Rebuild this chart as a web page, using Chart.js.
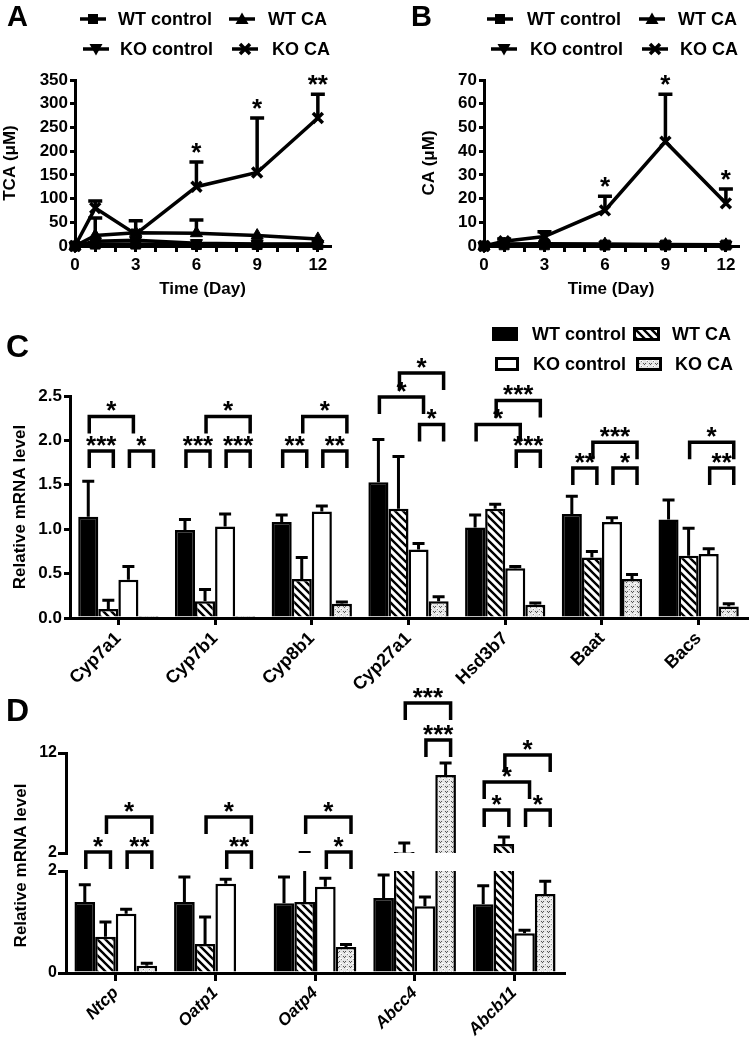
<!DOCTYPE html>
<html><head><meta charset="utf-8">
<script src="https://cdn.jsdelivr.net/npm/chart.js@4.4.1/dist/chart.umd.min.js"></script>
<style>
html,body{margin:0;padding:0;background:#fff;}
#wrap{position:relative;width:749px;height:1046px;overflow:hidden;background:#fff;font-family:"Liberation Sans",Arial,sans-serif;font-weight:bold;color:#000;}
canvas{position:absolute;}
.t{position:absolute;white-space:nowrap;font-weight:bold;}
</style></head>
<body><div id="wrap"></div>
<script>
// ---------------- DATA ----------------
const seriesNames = ['WT control', 'WT CA', 'KO control', 'KO CA'];
const days = [0, 1, 3, 6, 9, 12];
const dayTickLabels = [0, 3, 6, 9, 12];

// Panel A: TCA (uM)
const tcaWTcontrol = [0, 4, 4, 3, 3, 3];
const tcaWTCA      = [0, 22, 28, 27, 22, 15];
const tcaKOcontrol = [0, 10, 12, 6, 4, 4];
const tcaKOCA      = [0, 80, 25, 125, 155, 270];
const tcaWTCAErr   = [null, 59, null, 55, null, null];
const tcaKOCAErr   = [null, 95, 53, 177, 270, 320];
const tcaStars     = [null, null, null, '*', '*', '**'];

// Panel B: CA (uM)
const caWTcontrol = [0, 0.5, 0.5, 0.4, 0.4, 0.4];
const caWTCA      = [0, 0.8, 1.0, 0.8, 0.6, 0.5];
const caKOcontrol = [0, 0.6, 0.6, 0.5, 0.4, 0.4];
const caKOCA      = [0, 2, 4, 15, 44, 18];
const caKOCAErr   = [null, 3, 6, 21, 64, 24];
const caStars     = [null, null, null, '*', '*', '*'];

// Panel C: relative mRNA level
const genesC = ['Cyp7a1', 'Cyp7b1', 'Cyp8b1', 'Cyp27a1', 'Hsd3b7', 'Baat', 'Bacs'];
const cWTcontrol    = [1.14, 0.99, 1.08, 1.53, 1.02, 1.17, 1.11];
const cWTcontrolErr = [1.54, 1.11, 1.16, 2.01, 1.16, 1.37, 1.33];
const cWTCA         = [0.10, 0.19, 0.44, 1.23, 1.23, 0.68, 0.70];
const cWTCAErr      = [0.20, 0.32, 0.68, 1.82, 1.28, 0.75, 1.01];
const cKOcontrol    = [0.43, 1.03, 1.20, 0.77, 0.56, 1.08, 0.72];
const cKOcontrolErr = [0.58, 1.17, 1.26, 0.84, 0.58, 1.13, 0.78];
const cKOCA         = [0.01, 0.01, 0.16, 0.19, 0.15, 0.44, 0.13];
const cKOCAErr      = [0.01, 0.01, 0.18, 0.24, 0.17, 0.49, 0.16];
// significance brackets: [gene index, from group, to group, level, label]
const cBrackets = [
  [0, 0, 2, 2.27, '*'], [0, 0, 1, 1.88, '***'], [0, 2, 3, 1.88, '*'],
  [1, 1, 3, 2.27, '*'], [1, 0, 1, 1.88, '***'], [1, 2, 3, 1.88, '***'],
  [2, 1, 3, 2.27, '*'], [2, 0, 1, 1.88, '**'], [2, 2, 3, 1.88, '**'],
  [3, 1, 3, 2.76, '*'], [3, 0, 2, 2.49, '*'], [3, 2, 3, 2.18, '*'],
  [4, 1, 3, 2.45, '***'], [4, 0, 2, 2.18, '*'], [4, 2, 3, 1.88, '***'],
  [5, 1, 3, 1.98, '***'], [5, 0, 1, 1.69, '**'], [5, 2, 3, 1.69, '*'],
  [6, 1, 3, 1.98, '*'], [6, 2, 3, 1.69, '**']
];

// Panel D: relative mRNA level (broken axis 0-2 / 2-12)
const genesD = ['Ntcp', 'Oatp1', 'Oatp4', 'Abcc4', 'Abcb11'];
const dWTcontrol    = [1.39, 1.39, 1.37, 1.47, 1.35];
const dWTcontrolErr = [1.73, 1.88, 1.88, 1.92, 1.71];
const dWTCA         = [0.71, 0.57, 1.39, 2.1, 2.9];
const dWTCAErr      = [1.00, 1.10, 2.05, 3.0, 3.6];
const dKOcontrol    = [1.16, 1.75, 1.69, 1.31, 0.78];
const dKOcontrolErr = [1.25, 1.84, 1.86, 1.49, 0.84];
const dKOCA         = [0.14, 0.0, 0.51, 9.8, 1.55];
const dKOCAErr      = [0.19, 0.0, 0.56, 11.0, 1.80];
const dLowerTicks = [0, 2];
const dUpperTicks = [2, 12];
const dBrackets = [
  [0, 1, 3, 5.6, '*'], [0, 0, 1, 2.1, '*'], [0, 2, 3, 2.1, '**'],
  [1, 1, 3, 5.6, '*'], [1, 2, 3, 2.1, '**'],
  [2, 1, 3, 5.6, '*'], [2, 2, 3, 2.1, '*'],
  [3, 1, 3, 17.0, '***'], [3, 2, 3, 13.3, '***'],
  [4, 1, 3, 11.8, '*'], [4, 0, 2, 9.1, '*'], [4, 0, 1, 6.3, '*'], [4, 2, 3, 6.3, '*']
];

// ---------------- SETUP ----------------
const FONT = '"Liberation Sans", Arial, sans-serif';
Chart.defaults.font.family = FONT;
Chart.defaults.font.weight = 'bold';
Chart.defaults.font.size = 17;
Chart.defaults.color = '#000';
Chart.defaults.animation = false;

const wrap = document.getElementById('wrap');
function addCanvas(x, y, w, h) {
  const c = document.createElement('canvas');
  c.width = w; c.height = h;
  c.style.left = x + 'px'; c.style.top = y + 'px';
  c.style.width = w + 'px'; c.style.height = h + 'px';
  wrap.appendChild(c);
  return c;
}
function addText(txt, x, cy, size, extra) {
  const d = document.createElement('div');
  d.className = 't';
  d.textContent = txt;
  d.style.left = x + 'px';
  d.style.top = (cy - size / 2) + 'px';
  d.style.fontSize = size + 'px';
  d.style.lineHeight = size + 'px';
  if (extra) Object.assign(d.style, extra);
  wrap.appendChild(d);
  return d;
}
function addHTML(html, x, y) {
  const d = document.createElement('div');
  d.style.position = 'absolute'; d.style.left = x + 'px'; d.style.top = y + 'px';
  d.style.lineHeight = '0';
  d.innerHTML = html;
  wrap.appendChild(d);
}

function hatchPattern(ctx) {
  const c = document.createElement('canvas'); c.width = 8; c.height = 8;
  const g = c.getContext('2d');
  g.fillStyle = '#fff'; g.fillRect(0, 0, 8, 8);
  g.strokeStyle = '#000'; g.lineWidth = 2.4;
  g.beginPath();
  g.moveTo(-2, -2); g.lineTo(10, 10);
  g.moveTo(-2, 6); g.lineTo(2, 10);
  g.moveTo(6, -2); g.lineTo(10, 2);
  g.stroke();
  return ctx.createPattern(c, 'repeat');
}
function dotPattern(ctx) {
  const c = document.createElement('canvas'); c.width = 6; c.height = 5;
  const g = c.getContext('2d');
  g.fillStyle = '#e6e6e6'; g.fillRect(0, 0, 6, 5);
  g.fillStyle = '#555';
  g.fillRect(1, 1, 1, 1); g.fillRect(3, 1, 1, 1); g.fillRect(2, 2, 1, 1);
  g.fillStyle = '#fff';
  g.fillRect(4, 3, 2, 1); g.fillRect(0, 4, 1, 1);
  g.fillStyle = '#8a8a8a';
  g.fillRect(5, 4, 1, 1);
  return ctx.createPattern(c, 'repeat');
}

function axisBase(tickLen, pad) {
  return {
    grid: {display: true, drawOnChartArea: false, drawTicks: true, tickLength: tickLen, color: '#000', lineWidth: 3},
    border: {display: true, color: '#000', width: 3},
    ticks: {padding: pad, color: '#000', autoSkip: false, maxRotation: 0}
  };
}

function drawStar(ctx, txt, x, cy) {
  ctx.save();
  ctx.font = 'bold 26px ' + FONT;
  ctx.textAlign = 'center';
  ctx.textBaseline = 'alphabetic';
  const m = ctx.measureText(txt);
  const base = cy - (m.actualBoundingBoxDescent - m.actualBoundingBoxAscent) / 2;
  ctx.fillStyle = '#000';
  ctx.fillText(txt, x, base);
  ctx.restore();
}

// ---------------- LINE CHARTS (A, B) ----------------
const lineStyles = [
  {pointStyle: 'rect', pointRadius: 7, pointRotation: 0, pointBorderWidth: 1},
  {pointStyle: 'triangle', pointRadius: 7, pointRotation: 0, pointBorderWidth: 1},
  {pointStyle: 'triangle', pointRadius: 7, pointRotation: 180, pointBorderWidth: 1},
  {pointStyle: 'crossRot', pointRadius: 7, pointRotation: 0, pointBorderWidth: 3.5}
];
function lineAnnot(seriesList, errList, stars) {
  return {
    id: 'lineAnnot',
    afterDatasetsDraw(chart) {
      const ctx = chart.ctx, xs = chart.scales.x, ys = chart.scales.y;
      ctx.save();
      ctx.strokeStyle = '#000'; ctx.lineWidth = 3.5;
      errList.forEach((errs, k) => {
        if (!errs) return;
        errs.forEach((t, i) => {
          if (t == null) return;
          const x = xs.getPixelForValue(days[i]);
          const y0 = ys.getPixelForValue(seriesList[k][i]);
          const y1 = ys.getPixelForValue(t);
          ctx.beginPath();
          ctx.moveTo(x, y0); ctx.lineTo(x, y1);
          ctx.moveTo(x - 7, y1); ctx.lineTo(x + 7, y1);
          ctx.stroke();
        });
      });
      ctx.restore();
      stars.forEach((s, i) => {
        if (!s) return;
        const top = errList[3][i] != null ? errList[3][i] : seriesList[3][i];
        drawStar(ctx, s, xs.getPixelForValue(days[i]), ys.getPixelForValue(top) - 14);
      });
    }
  };
}
function makeLineChart(canvas, seriesList, errList, stars, yMax, yStep, yTitle, dims) {
  const xAxis = axisBase(6, 3), yAxis = axisBase(5, 2);
  return new Chart(canvas, {
    type: 'line',
    data: {
      datasets: seriesList.map((vals, k) => Object.assign({
        label: seriesNames[k],
        data: days.map((d, i) => ({x: d, y: vals[i]})),
        borderColor: '#000', backgroundColor: '#000', borderWidth: 3.5,
        pointBackgroundColor: '#000', pointBorderColor: '#000',
        tension: 0, fill: false, clip: false
      }, lineStyles[k]))
    },
    options: {
      responsive: false, animation: false, events: [],
      layout: {padding: {left: dims.padL, top: dims.padT, right: dims.padR, bottom: 0}},
      plugins: {legend: {display: false}, tooltip: {enabled: false}},
      scales: {
        x: Object.assign(xAxis, {
          type: 'linear', min: 0, max: 12.6,
          afterBuildTicks: s => { const t = []; for (let v = 0; v <= 12; v++) t.push({value: v}); s.ticks = t; },
          afterFit: s => { s.height = dims.xH; },
          ticks: Object.assign(xAxis.ticks, {callback: v => dayTickLabels.includes(v) ? String(v) : ''}),
          title: {display: true, text: 'Time (Day)', padding: 0, font: {size: 17, weight: 'bold'}}
        }),
        y: Object.assign(yAxis, {
          min: 0, max: yMax,
          ticks: Object.assign(yAxis.ticks, {stepSize: yStep}),
          afterFit: s => { s.width = dims.yW; },
          title: {display: true, text: yTitle, padding: 0, font: {size: 17, weight: 'bold'}}
        })
      }
    },
    plugins: [lineAnnot(seriesList, errList, stars)]
  });
}

const cvA = addCanvas(0, 0, 370, 300);
makeLineChart(cvA, [tcaWTcontrol, tcaWTCA, tcaKOcontrol, tcaKOCA], [null, tcaWTCAErr, null, tcaKOCAErr], tcaStars,
  350, 50, 'TCA (\u03bcM)', {padL: 0, padT: 80, padR: 40, xH: 54, yW: 75});
const cvB = addCanvas(370, 0, 379, 300);
makeLineChart(cvB, [caWTcontrol, caWTCA, caKOcontrol, caKOCA], [null, null, null, caKOCAErr], caStars,
  70, 10, 'CA (\u03bcM)', {padL: 49, padT: 80, padR: 11, xH: 54, yW: 65});

// ---------------- BAR CHARTS (C, D) ----------------
const CAT_PCT = 0.83;
function barAnnot(values, tops, brackets, mode) {
  return {
    id: 'barAnnot',
    afterDatasetsDraw(chart) {
      const ctx = chart.ctx, xs = chart.scales.x, ys = chart.scales.y, ca = chart.chartArea;
      const n = chart.data.labels.length, nd = chart.data.datasets.length;
      const catW = (xs.right - xs.left) / n, grpW = catW * CAT_PCT, bw = grpW / nd;
      const bx = (c, d) => xs.getPixelForValue(c) - grpW / 2 + (d + 0.5) * bw;
      ctx.save();
      const clipTop = mode === 'upper' ? 0 : ca.top;
      ctx.beginPath(); ctx.rect(0, clipTop, chart.width, ca.bottom - clipTop); ctx.clip();
      ctx.strokeStyle = '#000'; ctx.lineWidth = 3;
      values.forEach((vals, d) => {
        vals.forEach((v, c) => {
          const t = tops[d][c];
          if (t == null || t <= v) return;
          const base = Math.max(v, ys.min);
          if (t <= base) return;
          const x = bx(c, d), y0 = ys.getPixelForValue(base), y1 = ys.getPixelForValue(t);
          ctx.beginPath();
          ctx.moveTo(x, y0); ctx.lineTo(x, y1);
          ctx.moveTo(x - 6, y1); ctx.lineTo(x + 6, y1);
          ctx.stroke();
        });
      });
      ctx.restore();
      if (!brackets) return;
      ctx.save();
      ctx.strokeStyle = '#000'; ctx.lineWidth = 3.5; ctx.lineJoin = 'miter';
      brackets.forEach(([c, i, j, lvl, lab]) => {
        const x1 = bx(c, i) + 1, x2 = bx(c, j) + 5, y = ys.getPixelForValue(lvl);
        ctx.beginPath();
        ctx.moveTo(x1, y + 17); ctx.lineTo(x1, y); ctx.lineTo(x2, y); ctx.lineTo(x2, y + 17);
        ctx.stroke();
        drawStar(ctx, lab, (x1 + x2) / 2, y - 10);
      });
      ctx.restore();
    }
  };
}
function barDatasets(ctx, arrays, mapFn, clip) {
  const fills = ['#000', hatchPattern(ctx), '#fff', dotPattern(ctx)];
  return arrays.map((vals, k) => ({
    label: seriesNames[k],
    data: vals.map(mapFn),
    backgroundColor: fills[k], borderColor: '#000', borderWidth: 2.5,
    borderSkipped: 'start', categoryPercentage: CAT_PCT, barPercentage: 1,
    clip: clip
  }));
}

// Panel C
const cvC = addCanvas(0, 300, 749, 400);
(function () {
  const ctx = cvC.getContext('2d');
  const vals = [cWTcontrol, cWTCA, cKOcontrol, cKOCA];
  const tops = [cWTcontrolErr, cWTCAErr, cKOcontrolErr, cKOCAErr];
  const xAxis = axisBase(7, 3), yAxis = axisBase(6, 2);
  new Chart(cvC, {
    type: 'bar',
    data: {labels: genesC, datasets: barDatasets(ctx, vals, v => v, false)},
    options: {
      responsive: false, animation: false, events: [],
      layout: {padding: {left: 10, top: 96, right: 2, bottom: 0}},
      plugins: {legend: {display: false}, tooltip: {enabled: false}},
      scales: {
        x: Object.assign(xAxis, {
          afterFit: s => { s.height = 82; },
          grid: Object.assign(xAxis.grid, {offset: false}),
          ticks: Object.assign(xAxis.ticks, {minRotation: 45, maxRotation: 45, font: {size: 18, weight: 'bold'}})
        }),
        y: Object.assign(yAxis, {
          min: 0, max: 2.5,
          ticks: Object.assign(yAxis.ticks, {stepSize: 0.5, callback: v => Number(v).toFixed(1)}),
          afterFit: s => { s.width = 60; },
          title: {display: true, text: 'Relative mRNA level', padding: 0, font: {size: 17, weight: 'bold'}}
        })
      }
    },
    plugins: [barAnnot(vals, tops, cBrackets, 'full')]
  });
})();

// Panel D (two stacked charts = broken y axis)
const dVals = [dWTcontrol, dWTCA, dKOcontrol, dKOCA];
const dTops = [dWTcontrolErr, dWTCAErr, dKOcontrolErr, dKOCAErr];
const cvDu = addCanvas(0, 680, 600, 195);
(function () {
  const ctx = cvDu.getContext('2d');
  const yAxis = axisBase(8, 1);
  new Chart(cvDu, {
    type: 'bar',
    data: {labels: genesD, datasets: barDatasets(ctx, dVals, v => (v > dUpperTicks[0] ? [dUpperTicks[0], v] : null), false)},
    options: {
      responsive: false, animation: false, events: [],
      layout: {padding: {left: 0, top: 73, right: 36, bottom: 22}},
      plugins: {legend: {display: false}, tooltip: {enabled: false}},
      scales: {
        x: {display: true, grid: {display: false}, border: {display: false}, ticks: {display: false},
            afterFit: s => { s.height = 0; }},
        y: Object.assign(yAxis, {
          min: dUpperTicks[0], max: dUpperTicks[1],
          afterBuildTicks: s => { s.ticks = dUpperTicks.map(v => ({value: v})); },
          ticks: Object.assign(yAxis.ticks, {font: {size: 16, weight: 'bold'}}),
          afterFit: s => { s.width = 66; }
        })
      }
    },
    plugins: [barAnnot(dVals, dTops, dBrackets, 'upper')]
  });
})();
const cvDl = addCanvas(0, 850, 600, 196);
(function () {
  const ctx = cvDl.getContext('2d');
  const xAxis = axisBase(8, 2), yAxis = axisBase(8, 1);
  new Chart(cvDl, {
    type: 'bar',
    data: {labels: genesD, datasets: barDatasets(ctx, dVals, v => v, 0)},
    options: {
      responsive: false, animation: false, events: [],
      layout: {padding: {left: 0, top: 21, right: 36, bottom: 0}},
      plugins: {legend: {display: false}, tooltip: {enabled: false}},
      scales: {
        x: Object.assign(xAxis, {
          afterFit: s => { s.height = 73; },
          grid: Object.assign(xAxis.grid, {offset: false}),
          ticks: Object.assign(xAxis.ticks, {minRotation: 45, maxRotation: 45, font: {size: 17, weight: 'bold', style: 'italic'}})
        }),
        y: Object.assign(yAxis, {
          min: dLowerTicks[0], max: dLowerTicks[1],
          afterBuildTicks: s => { s.ticks = dLowerTicks.map(v => ({value: v})); },
          ticks: Object.assign(yAxis.ticks, {font: {size: 16, weight: 'bold'}}),
          afterFit: s => { s.width = 66; }
        })
      }
    },
    plugins: [barAnnot(dVals, dTops, null, 'lower')]
  });
})();

// ---------------- TEXT: panel letters, legends, titles ----------------
addText('A', 7, 16, 29);
addText('B', 411, 16, 29);
addText('C', 6, 346, 32);
addText('D', 6, 710, 32);

function markerSVG(kind) {
  let shape = '';
  if (kind === 'rect') shape = '<rect x="8" y="3" width="10" height="10" fill="#000"/>';
  if (kind === 'up') shape = '<polygon points="13,1.5 19.5,13 6.5,13" fill="#000"/>';
  if (kind === 'down') shape = '<polygon points="13,14.5 19.5,3 6.5,3" fill="#000"/>';
  if (kind === 'x') shape = '<path d="M8,3 L18,13 M18,3 L8,13" stroke="#000" stroke-width="3.5"/>';
  return '<svg width="26" height="16" viewBox="0 0 26 16"><line x1="0" y1="8" x2="26" y2="8" stroke="#000" stroke-width="3.5"/>' + shape + '</svg>';
}
const kinds = ['rect', 'up', 'down', 'x'];
function lineLegend(pos) {
  pos.forEach((p, k) => {
    addHTML(markerSVG(kinds[k]), p[0], p[2] - 8);
    addText(seriesNames[k], p[1], p[2], 18);
  });
}
lineLegend([[80, 118, 19], [229, 268, 19], [83, 120, 49], [232, 272, 49]]);
lineLegend([[487, 527, 19], [639, 678, 19], [491, 530, 49], [642, 680, 49]]);

// C legend boxes
function legendBox(x, y, w, h, k) {
  const c = addCanvas(x, y, w, h);
  const g = c.getContext('2d');
  const fills = ['#000', hatchPattern(g), '#fff', dotPattern(g)];
  g.fillStyle = fills[k]; g.fillRect(0, 0, w, h);
  g.strokeStyle = '#000'; g.lineWidth = 3; g.strokeRect(1.5, 1.5, w - 3, h - 3);
}
legendBox(492, 327, 26, 14, 0); addText(seriesNames[0], 532, 334, 18);
legendBox(633, 327, 27, 14, 1); addText(seriesNames[1], 672, 334, 18);
legendBox(495, 357, 24, 14, 2); addText(seriesNames[2], 533, 364, 18);
legendBox(636, 357, 26, 14, 3); addText(seriesNames[3], 675, 364, 18);

// D y-axis title (spans both segments of the broken axis)
addText('Relative mRNA level', 20 - 100, 865, 17, {width: '200px', textAlign: 'center', transform: 'rotate(-90deg)'});
</script>
</body></html>
